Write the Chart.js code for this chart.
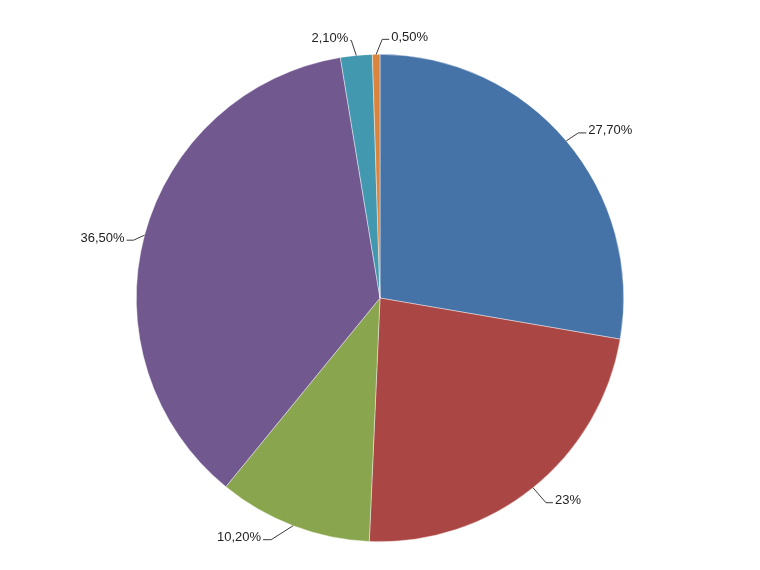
<!DOCTYPE html>
<html>
<head>
<meta charset="utf-8">
<script src="https://cdn.jsdelivr.net/npm/chart.js@4/dist/chart.umd.min.js"></script>
<style>
html,body{margin:0;padding:0;background:#fff;}
#wrap{width:760px;height:570px;}
</style>
</head>
<body>
<div id="wrap"><canvas id="c" width="760" height="570"></canvas></div>
<script>
// Data
const categories = ['A', 'B', 'C', 'D', 'E', 'F'];
const values = [27.7, 23, 10.2, 36.5, 2.1, 0.5];
const labelsText = ['27,70%', '23%', '10,20%', '36,50%', '2,10%', '0,50%'];

// Styles
const colors = ['#4572A7', '#AA4643', '#89A54E', '#71588F', '#4198AF', '#DB843D'];
// leader elbow offsets (from arc edge point) and horizontal tail direction/length
const leaderStyle = [
  {dx: 12, dy: -8, h: 8},
  {dx: 13, dy: 15, h: 7},
  {dx: -22, dy: 14, h: -8},
  {dx: -11, dy: 5, h: -7},
  {dx: -5, dy: -15, h: -1},
  {dx: 6, dy: -15, h: 7}
];

const labelPlugin = {
  id: 'leaderLabels',
  afterDatasetsDraw(chart) {
    const ctx = chart.ctx;
    const meta = chart.getDatasetMeta(0);
    ctx.save();
    ctx.font = '13px "Liberation Sans", Arial, sans-serif';
    ctx.textBaseline = 'middle';
    meta.data.forEach((arc, i) => {
      const p = arc.getProps(['x', 'y', 'startAngle', 'endAngle', 'outerRadius'], true);
      const mid = (p.startAngle + p.endAngle) / 2;
      const ex = p.x + Math.cos(mid) * p.outerRadius;
      const ey = p.y + Math.sin(mid) * p.outerRadius;
      const s = leaderStyle[i];
      const bx = ex + s.dx, by = ey + s.dy;
      const tx = bx + s.h;
      ctx.strokeStyle = '#3a3a3a';
      ctx.lineWidth = 1;
      ctx.beginPath();
      ctx.moveTo(ex, ey);
      ctx.lineTo(bx, by);
      ctx.lineTo(tx, by);
      ctx.stroke();
      ctx.fillStyle = '#222';
      if (s.h >= 0) {
        ctx.textAlign = 'left';
        ctx.fillText(labelsText[i], tx + 2, by - 2);
      } else {
        ctx.textAlign = 'right';
        ctx.fillText(labelsText[i], tx - 2, by - 2);
      }
    });
    ctx.restore();
  }
};

new Chart(document.getElementById('c'), {
  type: 'pie',
  data: {
    labels: categories,
    datasets: [{
      data: values,
      backgroundColor: colors,
      borderColor: 'rgba(255,255,255,0.7)',
      borderWidth: 0.6
    }]
  },
  options: {
    responsive: false,
    animation: false,
    layout: {padding: {top: 54, bottom: 28, left: 100, right: 100}},
    plugins: {
      legend: {display: false},
      tooltip: {enabled: false}
    }
  },
  plugins: [labelPlugin]
});
</script>
</body>
</html>
